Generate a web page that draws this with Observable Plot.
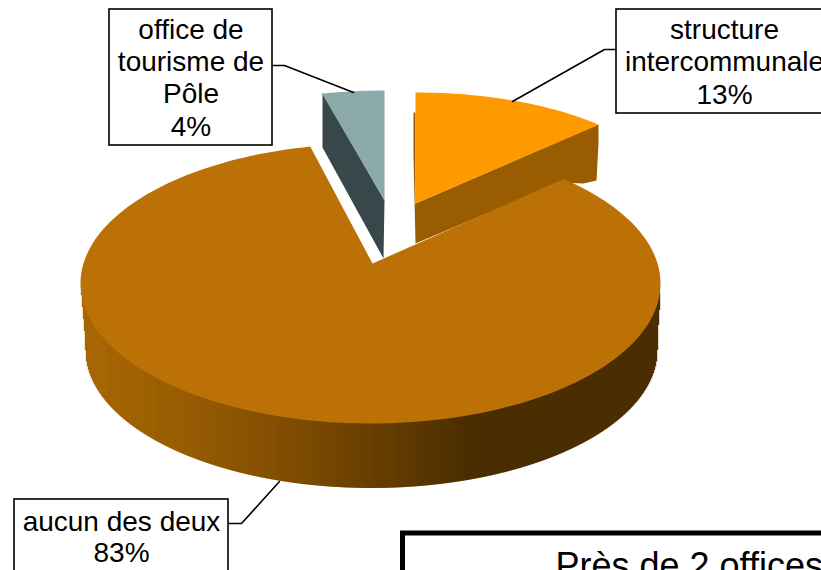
<!DOCTYPE html>
<html>
<head>
<meta charset="utf-8">
<style>
html,body{margin:0;padding:0;background:#fff;overflow:hidden;width:821px;height:570px}
svg{display:block}
</style>
<script src="https://cdn.jsdelivr.net/npm/d3@7"></script>
<script src="https://cdn.jsdelivr.net/npm/@observablehq/plot@0.6"></script>
</head>
<body>
<script>
// Data
const categories = ["structure intercommunale", "aucun des deux", "office de tourisme de Pôle"];
const shares = [13, 83, 4];

// Chart-space frame of the tilted pie
const topColors = ["#ff9900", "#bb7105", "#8caaaa"];
const sideColors = ["#995c00", null, "#38474a"];
const rimStops = [85, 200, 280, 400, 470, 660];
const rimColors = ["#a86704", "#935a03", "#824d02", "#5f3a01", "#4a2d00", "#4a2d00"];

const ellipses = [
  {cx: 415, cy: 194, rx: 251, ry: 102, apex: [415, 203], warp: a => a},
  {cx: 370, cy: 283, rx: 290, ry: 140, apex: [372, 263], warp: a => 249.8 + (a - 249.8) * 1.0251},
  {cx: 384, cy: 192, rx: 251, ry: 102, apex: [384, 200], warp: a => a}
];

// Top faces: arcs follow the shares
let acc = 0;
const topFaces = [];
shares.forEach((s, i) => {
  const a0 = acc * 3.6, a1 = (acc + s) * 3.6;
  acc += s;
  const e = ellipses[i];
  topFaces.push({slice: categories[i], color: topColors[i], x: e.apex[0], y: e.apex[1]});
  const n = Math.ceil((a1 - a0) / 1.5);
  for (let k = 0; k <= n; k++) {
    const a = e.warp(a0 + (a1 - a0) * k / n) * Math.PI / 180;
    topFaces.push({slice: categories[i], color: topColors[i],
      x: e.cx + e.rx * Math.sin(a), y: e.cy - e.ry * Math.cos(a)});
  }
});

// Cut faces of the two pulled-out slices
const orangeSideX = [413, 415, 415, 598, 598, 596, 583, 560, 415, 413];
const orangeSideY = [112, 112, 203, 124, 143, 180, 183, 182, 243, 155];
const greySideX = [322, 384, 383, 322];
const greySideY = [92, 200, 258, 147];
const sideOf = (xs, ys, i) => xs.map((x, k) => ({slice: categories[i], color: sideColors[i], x, y: ys[k]}));

// Rim of the big slice, one rule per column
const rimColor = d3.scaleLinear().domain(rimStops).range(rimColors);
const topLow = x => 283 + 140 * Math.sqrt(Math.max(0, 1 - ((x - 370) / 290) ** 2));
const botLow = x => {
  if (x < 85) return 295 + (x - 81) * 12;
  if (x > 657) return 340 - (x - 657) * 15;
  const u = (x - 371) / 286;
  return 350 + 138 * Math.sqrt(Math.max(0, 1 - u * u));
};
const rim = d3.range(81, 660).map(x => ({
  x, y1: topLow(x) - 3, y2: botLow(x),
  color: rimColor(Math.floor(x / 6) * 6)
}));

// Label boxes and leader lines
const boxes = [
  {x1: 109, x2: 272, y1: 9, y2: 145, w: 1.6},
  {x1: 616, x2: 830, y1: 9, y2: 113, w: 1.6},
  {x1: 14, x2: 228, y1: 499, y2: 580, w: 1.6},
  {x1: 402.5, x2: 840, y1: 533, y2: 600, w: 5}
];
const leaders = [
  {id: "a", x: 272, y: 65}, {id: "a", x: 284, y: 65}, {id: "a", x: 353, y: 92},
  {id: "b", x: 617, y: 49}, {id: "b", x: 604, y: 49}, {id: "b", x: 512, y: 101},
  {id: "c", x: 228, y: 523}, {id: "c", x: 241, y: 523}, {id: "c", x: 279, y: 481}
];
const labelText = ["office de", "tourisme de", "Pôle", "4%", "structure", "intercommunale", "13%", "aucun des deux", "83%"];
const labelX = [190.5, 190.5, 190.5, 190.5, 724, 724, 724, 121, 121];
const labelY = [30, 62, 94, 127, 30, 62, 95, 522, 553];

const chart = Plot.plot({
  width: 821, height: 570,
  margin: 0,
  x: {domain: [0, 821], range: [0, 821], axis: null},
  y: {domain: [0, 570], range: [0, 570], axis: null},
  color: {type: "identity"},
  style: {background: "#fff", fontFamily: "'Liberation Sans', Arial, sans-serif"},
  marks: [
    Plot.line(sideOf(orangeSideX, orangeSideY, 0), {x: "x", y: "y", fill: "color", stroke: null, curve: "linear-closed"}),
    Plot.line(topFaces.filter(d => d.slice === categories[0]), {x: "x", y: "y", fill: "color", stroke: null, curve: "linear-closed"}),
    Plot.line(sideOf(greySideX, greySideY, 2), {x: "x", y: "y", fill: "color", stroke: null, curve: "linear-closed"}),
    Plot.line(topFaces.filter(d => d.slice === categories[2]), {x: "x", y: "y", fill: "color", stroke: null, curve: "linear-closed"}),
    Plot.ruleX(rim, {x: "x", y1: "y1", y2: "y2", stroke: "color", strokeWidth: 1.4}),
    Plot.line(topFaces.filter(d => d.slice === categories[1]), {x: "x", y: "y", fill: "color", stroke: null, curve: "linear-closed"}),
    Plot.line(leaders, {x: "x", y: "y", z: "id", stroke: "#000", strokeWidth: 1.6}),
    Plot.rect(boxes, {x1: "x1", x2: "x2", y1: "y1", y2: "y2", fill: "#fff", stroke: "#000", strokeWidth: "w"}),
    Plot.text(labelText, {
      x: (d, i) => labelX[i], y: (d, i) => labelY[i], text: d => d,
      fontSize: 28, fill: "#000", lineAnchor: "middle", textAnchor: "middle"
    }),
    Plot.text(["Près de 2 offices"], {
      x: () => 555, y: () => 566, text: d => d,
      fontSize: 36, fill: "#000", textAnchor: "start", lineAnchor: "middle"
    })
  ]
});
document.body.appendChild(chart);
</script>
</body>
</html>
